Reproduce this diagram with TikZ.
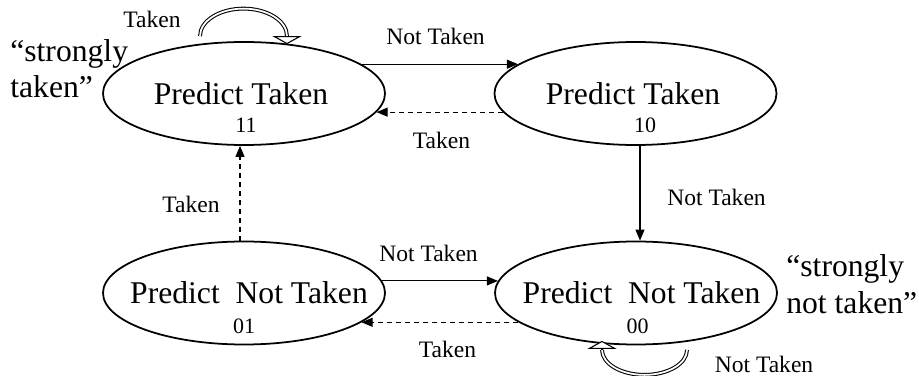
\documentclass[tikz,border=0pt]{standalone}
\usepackage{fontspec}
\setmainfont{Liberation Serif}
\usetikzlibrary{arrows.meta,shapes.geometric}
\tikzset{
  state/.style={ellipse, draw=black, line width=1pt, minimum width=5.64cm, minimum height=2.06cm, inner sep=0pt},
  statename/.style={font=\fontsize{18}{20}\selectfont, anchor=base, inner sep=0pt},
  statecode/.style={font=\fontsize{12.5}{14}\selectfont, anchor=base, inner sep=0pt},
  edgelabel/.style={font=\fontsize{13.4}{15}\selectfont, anchor=base, inner sep=0pt},
  remark/.style={font=\fontsize{18}{20.5}\selectfont, align=left, anchor=base west, inner sep=0pt},
  move/.style={line width=0.6pt, -{Triangle[length=0.22cm, width=0.18cm]}},
  moveback/.style={move, dash pattern=on 0.1cm off 0.08cm},
  stay/.style={double, line width=0.6pt, double distance=1pt},
  stayhead/.style={line width=0.6pt, -{Triangle[fill=white, length=0.16cm, width=0.58cm]}},
}
\begin{document}
\begin{tikzpicture}
\useasboundingbox (0,0) rectangle (18.380,7.500);
\node[state] (s11) at (4.880,5.630) {};
\node[state] (s10) at (12.710,5.630) {};
\node[state] (s01) at (4.880,1.640) {};
\node[state] (s00) at (12.720,1.640) {};
\node[statename] (s11name) at ([xshift=-0.06cm, yshift=-0.23cm]s11.center) {Predict Taken};
\node[statecode] (s11code) at ([xshift=0.04cm, yshift=-0.79cm]s11.center) {11};
\node[statename] (s10name) at ([xshift=-0.05cm, yshift=-0.23cm]s10.center) {Predict Taken};
\node[statecode] (s10code) at ([xshift=0.19cm, yshift=-0.79cm]s10.center) {10};
\node[statename] (s01name) at ([xshift=0.10cm, yshift=-0.20cm]s01.center) {Predict\ \ Not Taken};
\node[statecode] (s01code) at ([yshift=-0.80cm]s01.center) {01};
\node[statename] (s00name) at ([xshift=0.11cm, yshift=-0.20cm]s00.center) {Predict\ \ Not Taken};
\node[statecode] (s00code) at ([xshift=0.03cm, yshift=-0.80cm]s00.center) {00};
\draw[move] (s11.14) -- (s10.166);
\draw[moveback] (s10.188.5) -- (s11.-8.5);
\draw[move] (s01.5) -- (s00.175);
\draw[moveback] (s00.194) -- (s01.-14);
\draw[moveback] ([xshift=-0.08cm]s01.north) -- ([xshift=-0.08cm]s11.south);
\draw[move] ([xshift=0.09cm]s10.south) -- ([xshift=0.08cm]s00.north);
\draw[stay] ([shift={(-0.88,0.10)}]s11.north) arc[start angle=180, end angle=0, x radius=0.87, y radius=0.55] coordinate (s11loop);
\draw[stayhead] (s11loop) -- ++(0,-0.16);
\draw[stay] ([shift={(1.02,-0.09)}]s00.south) arc[start angle=0, end angle=-180, x radius=0.85, y radius=0.50] coordinate (s00loop);
\draw[stayhead] (s00loop) -- ++(0,0.18);
\node[edgelabel] (l11) at (3.040,6.940) {Taken};
\node[edgelabel] (l1110) at (8.710,6.600) {Not Taken};
\node[edgelabel] (l1011) at (8.830,4.540) {Taken};
\node[edgelabel] (l0111) at (3.820,3.260) {Taken};
\node[edgelabel] (l1000) at (14.330,3.400) {Not Taken};
\node[edgelabel] (l0100) at (8.570,2.260) {Not Taken};
\node[edgelabel] (l0001) at (8.950,0.360) {Taken};
\node[edgelabel] (l00) at (15.280,0.060) {Not Taken};
\node[remark] (strongt) at (0.200,5.540) {“strongly\\taken”};
\node[remark] (strongn) at (15.720,1.240) {“strongly\\not taken”};
\end{tikzpicture}
\end{document}
